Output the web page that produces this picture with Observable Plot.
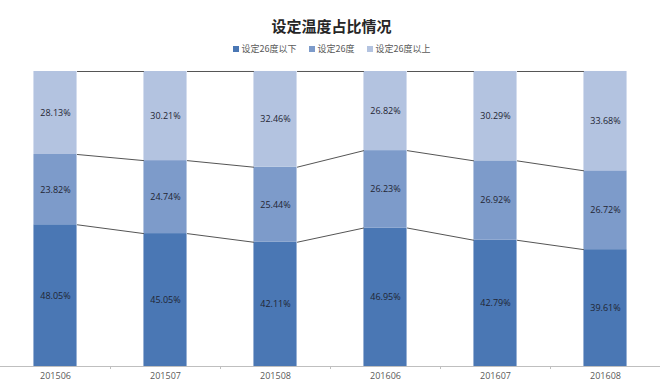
<!DOCTYPE html>
<html><head><meta charset="utf-8">
<script src="https://cdn.jsdelivr.net/npm/d3@7"></script>
<script src="https://cdn.jsdelivr.net/npm/@observablehq/plot@0.6"></script>
<style>
body{margin:0;background:#fff;font-family:"Noto Sans CJK SC","Noto Sans",sans-serif;}
#title{position:absolute;left:0;width:663px;top:16px;text-align:center;font-size:15px;font-weight:bold;color:#262626;line-height:20px;}
#legend{position:absolute;left:0;width:663px;top:42px;text-align:center;font-size:9px;color:#595959;line-height:14px;}
#legend span.item{display:inline-block;margin:0 6px;}
#legend span.sw{display:inline-block;width:6px;height:6px;margin-right:3px;vertical-align:0px;}
#chart{position:absolute;left:0;top:60px;}
</style></head>
<body>
<div id="title">设定温度占比情况</div>
<div id="legend"></div>
<div id="chart"></div>
<script>
const months = ["201506","201507","201508","201606","201607","201608"];
const below26 = [48.05, 45.05, 42.11, 46.95, 42.79, 39.61];
const at26 = [23.82, 24.74, 25.44, 26.23, 26.92, 26.72];
const above26 = [28.13, 30.21, 32.46, 26.82, 30.29, 33.68];
const seriesNames = ["设定26度以下","设定26度","设定26度以上"];
const colors = ["#4a77b4","#7d9bca","#b3c3e0"];

const series = [below26, at26, above26];
const hw = 0.196;
const rows = [];
const cum = series.map(() => []);
months.forEach((m, i) => {
  let base = 0;
  series.forEach((vals, s) => {
    const v = vals[i];
    rows.push({i, s: seriesNames[s], y1: base, y2: base + v, v});
    base += v;
    cum[s][i] = base;
  });
});
const links = [];
series.forEach((vals, s) => {
  for (let i = 0; i < months.length - 1; i++) {
    links.push({x1: i + hw, x2: i + 1 - hw, y1: cum[s][i], y2: cum[s][i + 1]});
  }
});
const bounds = months.slice(1).map((m, i) => i + 0.5);

const leg = document.getElementById("legend");
seriesNames.forEach((n, k) => {
  const it = document.createElement("span");
  it.className = "item";
  it.innerHTML = `<span class="sw" style="background:${colors[k]}"></span>${n}`;
  leg.appendChild(it);
});

const chart = Plot.plot({
  width: 663,
  height: 323,
  marginTop: 11,
  marginBottom: 17,
  marginLeft: 0,
  marginRight: 3,
  style: {fontFamily: '"Open Sans","Noto Sans",sans-serif', fontSize: "9px", background: "#fff"},
  x: {type: "linear", domain: [-0.5, months.length - 0.5], axis: null},
  y: {domain: [0, 100], axis: null},
  color: {domain: seriesNames, range: colors},
  marks: [
    Plot.rect(rows, {x1: d => d.i - hw, x2: d => d.i + hw, y1: "y1", y2: "y2", fill: "s"}),
    Plot.link(links, {x1: "x1", x2: "x2", y1: "y1", y2: "y2", stroke: "#555", strokeWidth: 1}),
    Plot.text(rows, {x: "i", y: d => (d.y1 + d.y2) / 2, text: d => d.v.toFixed(2) + "%", fill: "#1f2533", fontSize: 9}),
    Plot.ruleY([0], {stroke: "#bfbfbf", strokeWidth: 1}),
    Plot.ruleX(bounds, {x: d => d, y1: 0, y2: 0, insetBottom: -3, stroke: "#bfbfbf"}),
    Plot.axisX(months.map((m, i) => i), {tickSize: 0, tickPadding: 6, tickFormat: i => months[i], fill: "#595959", fontSize: 9})
  ]
});
document.getElementById("chart").appendChild(chart);
</script>
</body></html>
